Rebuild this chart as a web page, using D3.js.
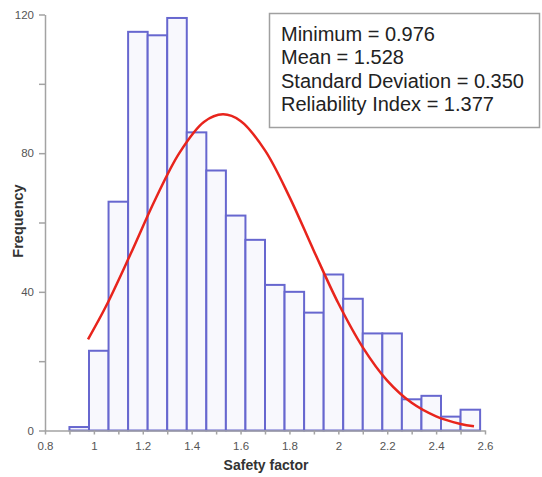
<!DOCTYPE html>
<html lang="en">
<head>
    <meta charset="UTF-8">
    <title>Safety factor histogram</title>
    <script src="https://d3js.org/d3.v7.min.js"></script>
    <style>
        body { margin: 0; background: white; }
        svg { background-color: white; font-family: "Liberation Sans", Arial, sans-serif; }
        .axis path, .axis line { stroke: #a3a3a3; stroke-width: 1.5; }
        .axis text { fill: #555; font-size: 11.5px; }
    </style>
</head>
<body>
    <script>
        const width = 542;
        const height = 477;

        // histogram bins (left edge, width 0.08) and counts
        const binStarts = [0.90, 0.98, 1.06, 1.14, 1.22, 1.30, 1.38, 1.46, 1.54, 1.62, 1.70,
                           1.78, 1.86, 1.94, 2.02, 2.10, 2.18, 2.26, 2.34, 2.42, 2.50];
        const counts = [1, 23, 66, 115, 114, 119, 86, 75, 62, 55, 42,
                        40, 34, 45, 38, 28, 28, 9, 10, 4, 6];
        const binWidth = 0.08;

        // fitted curve
        const curveX = [0.976, 1.05, 1.15, 1.25, 1.35, 1.45, 1.528, 1.6, 1.7, 1.8,
                        1.9, 2.0, 2.1, 2.2, 2.3, 2.4, 2.5, 2.555];
        const curveY = [26.3, 35.9, 50.9, 66.5, 80.1, 89.0, 91.2, 89.3, 80.8, 67.4,
                        51.8, 36.7, 24.0, 14.4, 8.0, 4.1, 1.9, 1.2];

        const xTicks = [0.8, 1, 1.2, 1.4, 1.6, 1.8, 2, 2.2, 2.4, 2.6];
        const yTicks = [0, 40, 80, 120];

        const stats = [
            'Minimum = 0.976',
            'Mean = 1.528',
            'Standard Deviation = 0.350',
            'Reliability Index = 1.377'
        ];

        const svg = d3.select('body')
                      .append('svg')
                      .attr('width', width)
                      .attr('height', height);

        const xScale = d3.scaleLinear()
                         .domain([0.8, 2.6])
                         .range([45, 485]);

        const yScale = d3.scaleLinear()
                         .domain([0, 120])
                         .range([430.5, 14.5]);

        // bars
        svg.append('g')
           .selectAll('rect')
           .data(binStarts)
           .join('rect')
           .attr('x', d => xScale(d))
           .attr('y', (d, i) => yScale(counts[i]))
           .attr('width', d => xScale(d + binWidth) - xScale(d))
           .attr('height', (d, i) => yScale(0) - yScale(counts[i]))
           .attr('fill', '#f8f8fd')
           .attr('stroke', '#6767cf')
           .attr('stroke-width', 2);

        // axes
        const xAxis = svg.append('g')
           .attr('class', 'axis')
           .attr('transform', `translate(0,${yScale(0)})`)
           .call(d3.axisBottom(xScale)
                   .tickValues(d3.range(0.8, 2.65, 0.1))
                   .tickSize(4)
                   .tickSizeOuter(0)
                   .tickFormat(d => xTicks.some(t => Math.abs(t - d) < 1e-6) ? d3.format('')(+d.toFixed(1)) : ''));
        xAxis.selectAll('text').attr('dy', '1.05em');

        const yAxis = svg.append('g')
           .attr('class', 'axis')
           .attr('transform', `translate(${xScale(0.8)},0)`)
           .call(d3.axisLeft(yScale)
                   .tickValues(d3.range(0, 121, 20))
                   .tickSize(6)
                   .tickSizeOuter(0)
                   .tickFormat(d => yTicks.includes(d) ? d : ''));
        yAxis.selectAll('text').attr('x', -11);

        // fitted normal curve
        const line = d3.line()
                       .x((d, i) => xScale(d))
                       .y((d, i) => yScale(curveY[i]))
                       .curve(d3.curveCatmullRom);

        svg.append('path')
           .datum(curveX)
           .attr('d', line)
           .attr('fill', 'none')
           .attr('stroke', '#e8241c')
           .attr('stroke-width', 2.5);

        // axis titles
        svg.append('text')
           .attr('x', 266)
           .attr('y', 470)
           .attr('text-anchor', 'middle')
           .style('font-size', '14px')
           .style('font-weight', 'bold')
           .style('fill', '#333')
           .text('Safety factor');

        svg.append('text')
           .attr('transform', 'translate(23,221) rotate(-90)')
           .attr('text-anchor', 'middle')
           .style('font-size', '14.5px')
           .style('font-weight', 'bold')
           .style('fill', '#333')
           .text('Frequency');

        // statistics box
        svg.append('rect')
           .attr('x', 269.5)
           .attr('y', 13.5)
           .attr('width', 270)
           .attr('height', 114)
           .attr('fill', 'white')
           .attr('stroke', '#a0a0a0')
           .attr('stroke-width', 1.5);

        svg.append('g')
           .selectAll('text')
           .data(stats)
           .join('text')
           .attr('x', 281)
           .attr('y', (d, i) => 41 + i * 23.4)
           .style('font-size', '20px')
           .style('fill', '#222')
           .text(d => d);
    </script>
</body>
</html>
